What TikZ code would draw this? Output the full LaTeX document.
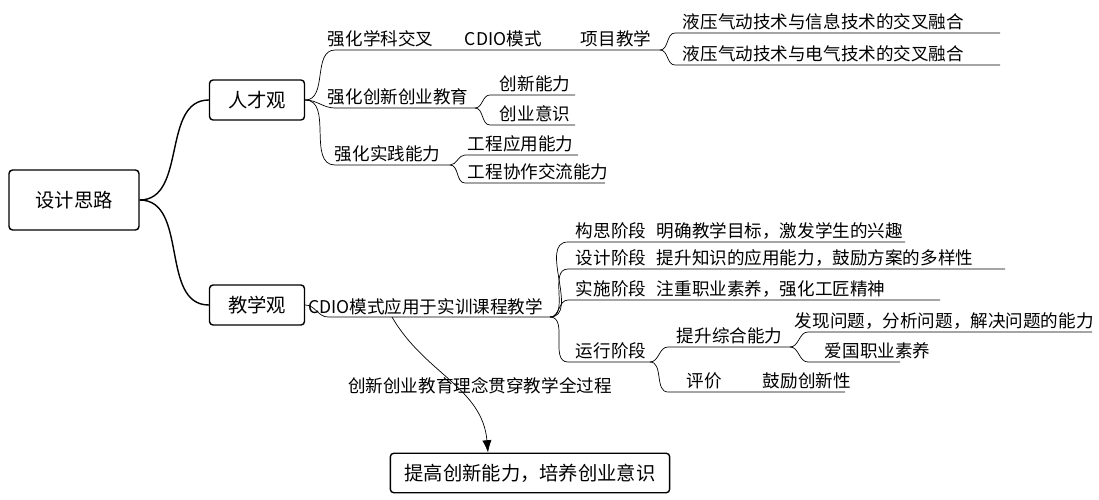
\documentclass[tikz,border=0pt]{standalone}
\usepackage{fontspec}
\setmainfont{Noto Sans CJK SC}
\usetikzlibrary{positioning,arrows.meta}
\tikzset{
  box/.style={draw,thick,rounded corners=2pt,inner xsep=8pt,inner ysep=6pt,font=\fontsize{11pt}{13pt}\selectfont},
  lbl/.style={anchor=south west,inner sep=1.5pt,font=\fontsize{10pt}{12pt}\selectfont},
  br/.style={thick,out=0,in=180},
}
\begin{document}
\begin{tikzpicture}[x=0.02cm,y=-0.02cm]
\useasboundingbox (0,0) rectangle (1099,500);

% main boxes
\node (root) [box,minimum width=2.6cm,minimum height=1.2cm] at (74,200) {设计思路};
\node (talent) [box,minimum width=1.9cm,minimum height=0.8cm] at (257,100) {人才观};
\node (teach) [box,minimum width=1.9cm,minimum height=0.8cm] at (257,305) {教学观};
\node (goal) [box,minimum width=5.5cm] at (530,473) {提高创新能力，培养创业意识};

\draw[thick] (root.east) to[out=0,in=180] (talent.west);
\draw[thick] (root.east) to[out=0,in=180] (teach.west);

% talent branches
\coordinate (t1) at (660,50);
\coordinate (t2) at (475,108);
\coordinate (t3) at (450,165);
\draw (talent.east) to[br] (335,50) -- (t1);
\draw (talent.east) to[br] (335,108) -- (t2);
\draw (talent.east) to[br] (335,165) -- (t3);
\node[lbl] (cross) at (325,50) {强化学科交叉};
\node[lbl] (cdio) at (462,50) {CDIO模式};
\node[lbl] (proj) at (578,50) {项目教学};
\draw (t1) to[br] (675,33) -- (1000,33);
\draw (t1) to[br] (675,65) -- (1000,65);
\node[lbl] (info) at (680,33) {液压气动技术与信息技术的交叉融合};
\node[lbl] (elec) at (680,65) {液压气动技术与电气技术的交叉融合};
\node[lbl] (innov) at (325,108) {强化创新创业教育};
\draw (t2) to[br] (490,95) -- (575,95);
\draw (t2) to[br] (490,125) -- (575,125);
\node[lbl] (ab1) at (497,95) {创新能力};
\node[lbl] (ab2) at (497,125) {创业意识};
\node[lbl] (prac) at (332,165) {强化实践能力};
\draw (t3) to[br] (465,155) -- (578,155);
\draw (t3) to[br] (465,183) -- (605,183);
\node[lbl] (eng1) at (465,155) {工程应用能力};
\node[lbl] (eng2) at (465,183) {工程协作交流能力};

% teaching branches
\coordinate (c0) at (550,317);
\coordinate (run) at (650,362);
\coordinate (comp) at (790,347);
\draw (teach.east) to[br] (328,317) -- (c0);
\node[lbl,inner sep=1pt] (apply) at (306,317) {CDIO模式应用于实训课程教学};
\draw (c0) to[br] (568,242) -- (905,242);
\draw (c0) to[br] (568,269) -- (1005,269);
\draw (c0) to[br] (568,300) -- (940,300);
\draw (c0) to[br] (568,362) -- (run);
\node[lbl] (p1) at (573,242) {构思阶段};
\node[lbl] (d1) at (654,242) {明确教学目标，激发学生的兴趣};
\node[lbl] (p2) at (573,269) {设计阶段};
\node[lbl] (d2) at (654,269) {提升知识的应用能力，鼓励方案的多样性};
\node[lbl] (p3) at (573,300) {实施阶段};
\node[lbl] (d3) at (654,300) {注重职业素养，强化工匠精神};
\node[lbl] (p4) at (573,362) {运行阶段};
\draw (run) to[br] (668,347) -- (comp);
\draw (run) to[br] (668,392) -- (845,392);
\node[lbl] (compl) at (674,347) {提升综合能力};
\node[lbl] (eval) at (684,392) {评价};
\node[lbl] (encour) at (760,392) {鼓励创新性};
\draw (comp) to[br] (808,332) -- (1092,332);
\draw (comp) to[br] (808,362) -- (900,362);
\node[lbl] (solve) at (792,332) {发现问题，分析问题，解决问题的能力};
\node[lbl] (patri) at (822,362) {爱国职业素养};

% whole process arrow
\coordinate (src) at (392,317);
\draw[-{Latex[length=7pt]}] (src) to[out=-60,in=95] (goal.north -| 488,0);
\node[lbl,anchor=center] (through) at (480,386) {创新创业教育理念贯穿教学全过程};
\end{tikzpicture}
\end{document}
